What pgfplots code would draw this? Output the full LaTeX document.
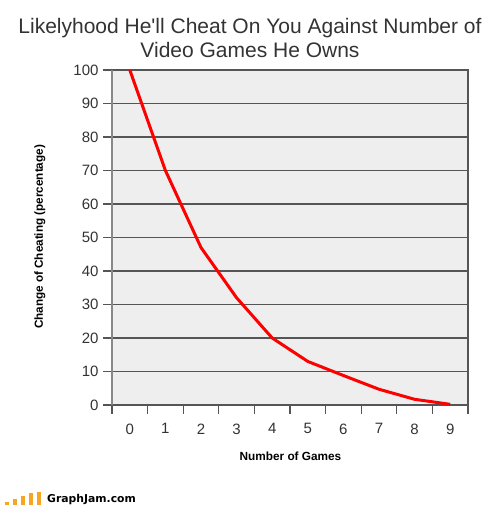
\documentclass[border=0pt]{standalone}
\usepackage{pgfplots}
\pgfplotsset{compat=1.18}
\usepackage{fontspec}
\setmainfont{Liberation Sans}
\newfontfamily\logofont{DejaVu Sans}
\definecolor{bgc}{HTML}{EEEEEE}
\definecolor{gridc}{HTML}{555555}
\definecolor{axc}{HTML}{888888}
\definecolor{txt}{HTML}{333333}
\definecolor{logoor}{HTML}{F5A623}
\begin{document}
\begin{tikzpicture}[x=1pt,y=1pt]
\useasboundingbox (0,0) rectangle (500,505);
\begin{axis}[
  at={(112pt,100pt)}, anchor=south west,
  scale only axis, width=356pt, height=335pt,
  xmin=-0.5, xmax=9.5, ymin=0, ymax=100,
  axis background/.style={fill=bgc},
  axis line style={gridc, line width=1.2pt},
  xtick={0,...,9},
  minor xtick={-0.5,0.5,...,9.5},
  ytick={0,10,...,100},
  ymajorgrids,
  major grid style={gridc, line width=1.3pt},
  tick align=outside,
  x tick style={draw=none},
  minor x tick style={draw=gridc, line width=1.2pt},
  minor tick length=9pt,
  y tick style={draw=gridc, line width=1.2pt},
  major tick length=9pt,
  xtick pos=bottom, ytick pos=left,
  tick label style={font=\fontsize{15}{18}\selectfont, text=txt},
  yticklabel style={xshift=-1pt},
  xticklabel style={yshift=-6pt},
  /pgf/number format/assume math mode=true,
  clip=false,
]
\addplot[red, line width=3pt, line join=round] coordinates {
(0,100) (1,70) (2,47) (3,32) (4,20) (5,13) (6,8.8) (7,4.7) (8,1.7) (9,0.2)
};
\end{axis}
\draw[axc, line width=1.2pt] (112,100) -- (112,435);
\node[font=\fontsize{21}{24}\selectfont, text=txt, align=center] at (250,466.5)
  {Likelyhood He\textquotesingle ll Cheat On You Against Number of\\Video Games He Owns};
\node[font=\bfseries\fontsize{11.7}{13}\selectfont, rotate=90] at (40,268)
  {Change of Cheating (percentage)};
\node[font=\bfseries\fontsize{11.8}{13}\selectfont] at (290.5,48.3) {Number of Games};
\foreach \xx/\hh in {7/3,15/6,23/9,31/12,39/13}
  \fill[logoor] (\xx-1.7,0) rectangle (\xx+1.7,\hh);
\node[font=\logofont\bfseries\fontsize{10.8}{12}\selectfont, anchor=base west, inner sep=0pt] at (47,2.5) {GraphJam.com};
\end{tikzpicture}
\end{document}
